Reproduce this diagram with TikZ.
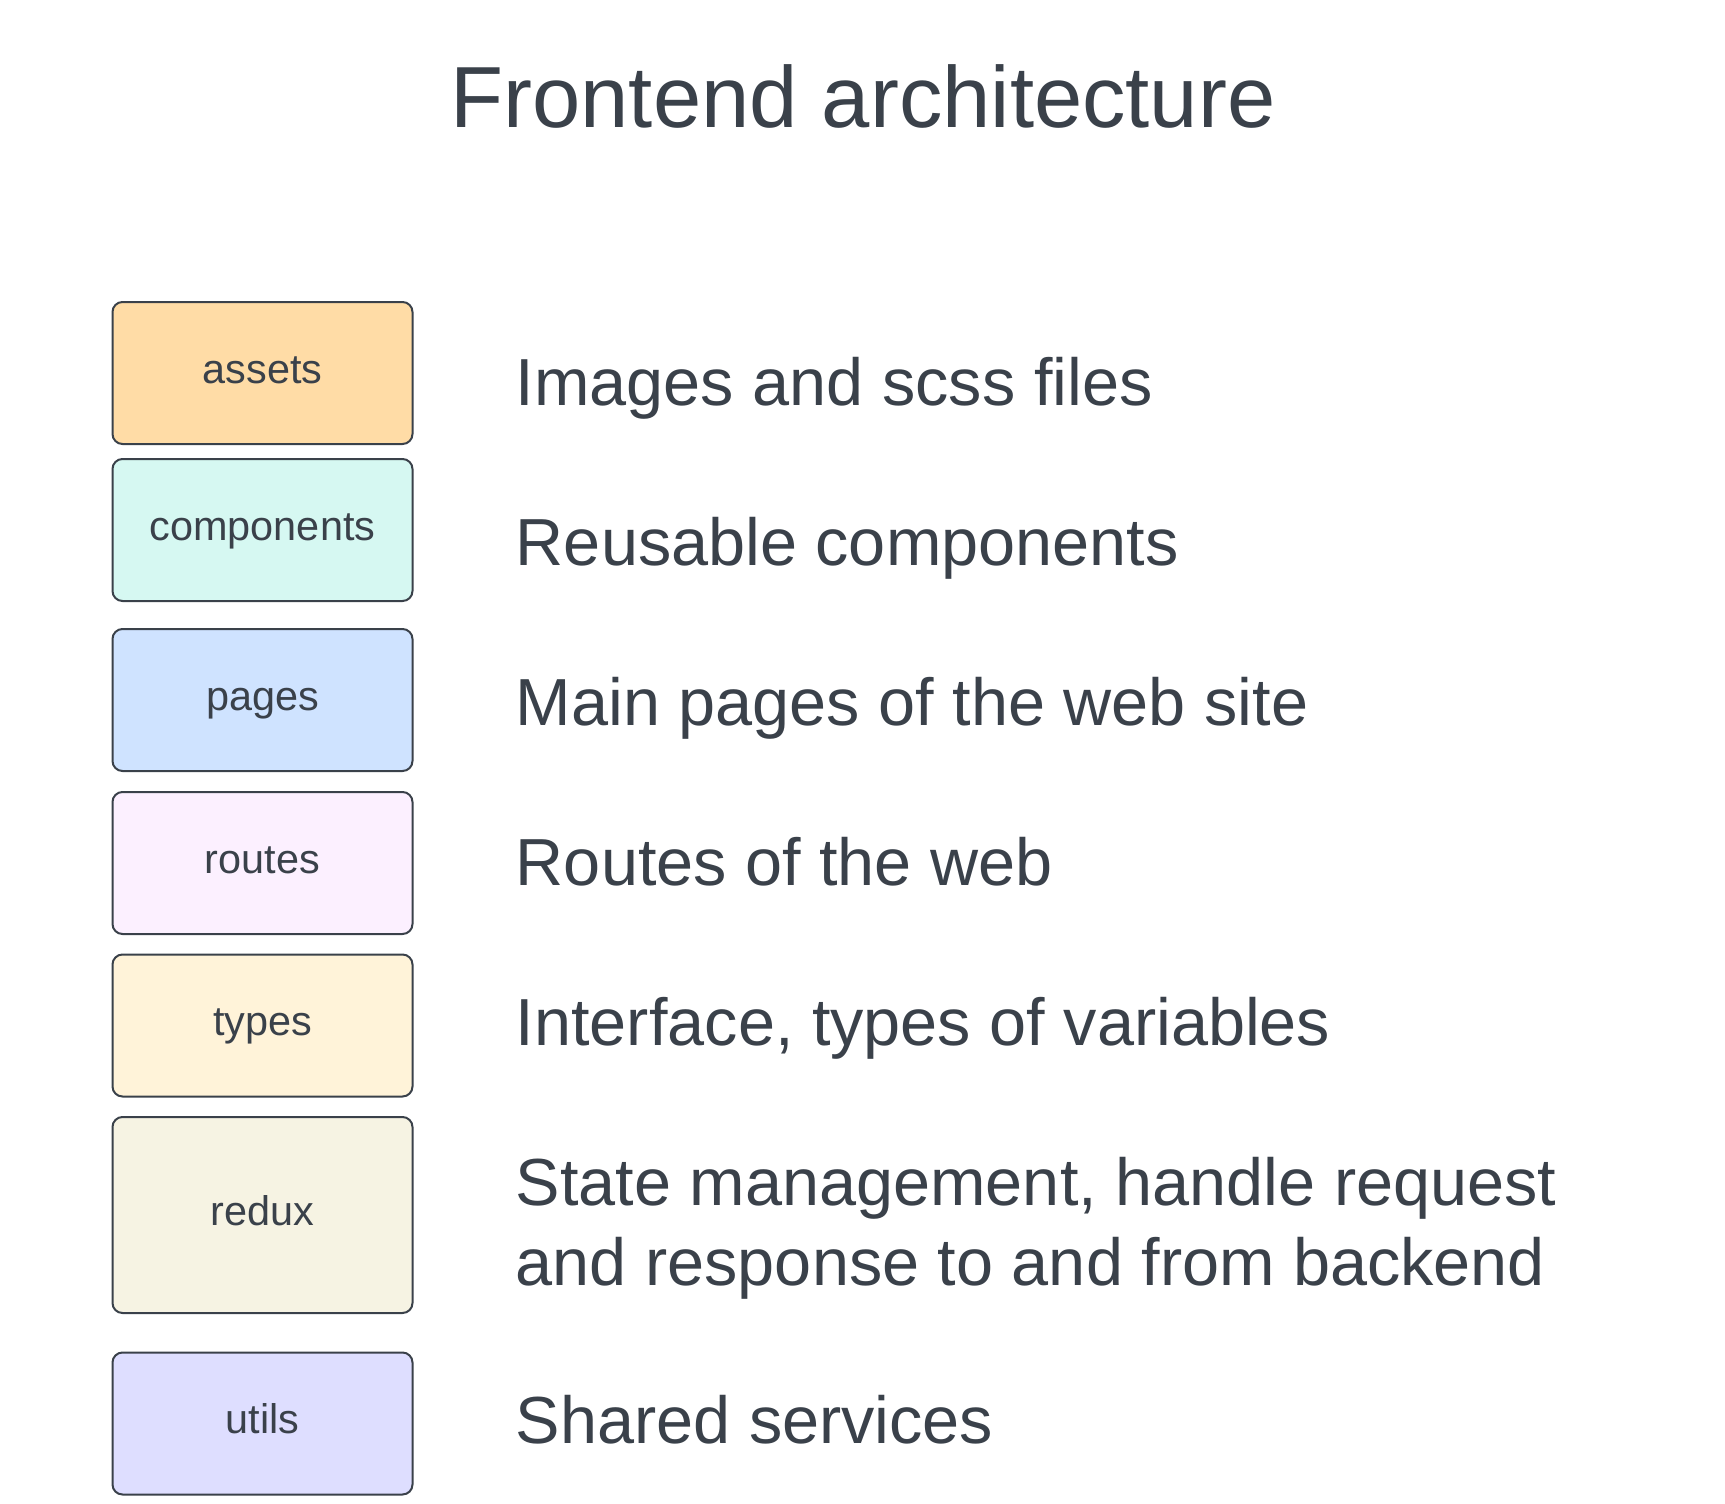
\documentclass[tikz,border=0pt]{standalone}
\usepackage{fontspec}
\setmainfont{Liberation Sans}
\definecolor{ink}{HTML}{3A414A}
\definecolor{cassets}{HTML}{FFDCA6}
\definecolor{ccomp}{HTML}{D6F8F2}
\definecolor{cpages}{HTML}{CFE3FF}
\definecolor{croutes}{HTML}{FCF0FF}
\definecolor{ctypes}{HTML}{FFF3D9}
\definecolor{credux}{HTML}{F6F3E3}
\definecolor{cutils}{HTML}{DEDEFF}
\tikzset{
  folder/.style={draw=ink, line width=1pt, rounded corners=5pt, inner sep=0pt,
    minimum width=150pt, minimum height=71pt, text=ink,
    font=\fontsize{20.7}{24}\selectfont, text height=10pt, text depth=0pt},
  desc/.style={anchor=base west, inner sep=0pt, text=ink,
    font=\fontsize{33.3}{40}\selectfont},
  heading/.style={anchor=base, inner sep=0pt, text=ink,
    font=\fontsize{43.4}{50}\selectfont}
}
\begin{document}
\begin{tikzpicture}[x=0.5pt,y=-0.5pt]
\useasboundingbox (0,0) rectangle (1725,1504);
\node[heading] (title) at (863,127) {Frontend architecture};

\node[folder, fill=cassets] (assets) at (262.5,373) {assets};
\node[folder, fill=ccomp] (components) at (262.5,530) {components};
\node[folder, fill=cpages] (pages) at (262.5,700) {pages};
\node[folder, fill=croutes] (routes) at (262.5,863) {routes};
\node[folder, fill=ctypes] (types) at (262.5,1025.5) {types};
\node[folder, fill=credux, minimum height=98pt] (redux) at (262.5,1215) {redux};
\node[folder, fill=cutils] (utils) at (262.5,1423.5) {utils};

\node[desc] (d1) at (515.5,405) {Images and scss files};
\node[desc] (d2) at (515.5,565) {Reusable components};
\node[desc] (d3) at (515.5,725) {Main pages of the web site};
\node[desc] (d4) at (515.5,885) {Routes of the web};
\node[desc] (d5) at (515.5,1045) {Interface, types of variables};
\node[desc] (d6a) at (515.5,1205) {State management, handle request};
\node[desc] (d6b) at (515.5,1285) {and response to and from backend};
\node[desc] (d7) at (515.5,1443) {Shared services};
\end{tikzpicture}
\end{document}
